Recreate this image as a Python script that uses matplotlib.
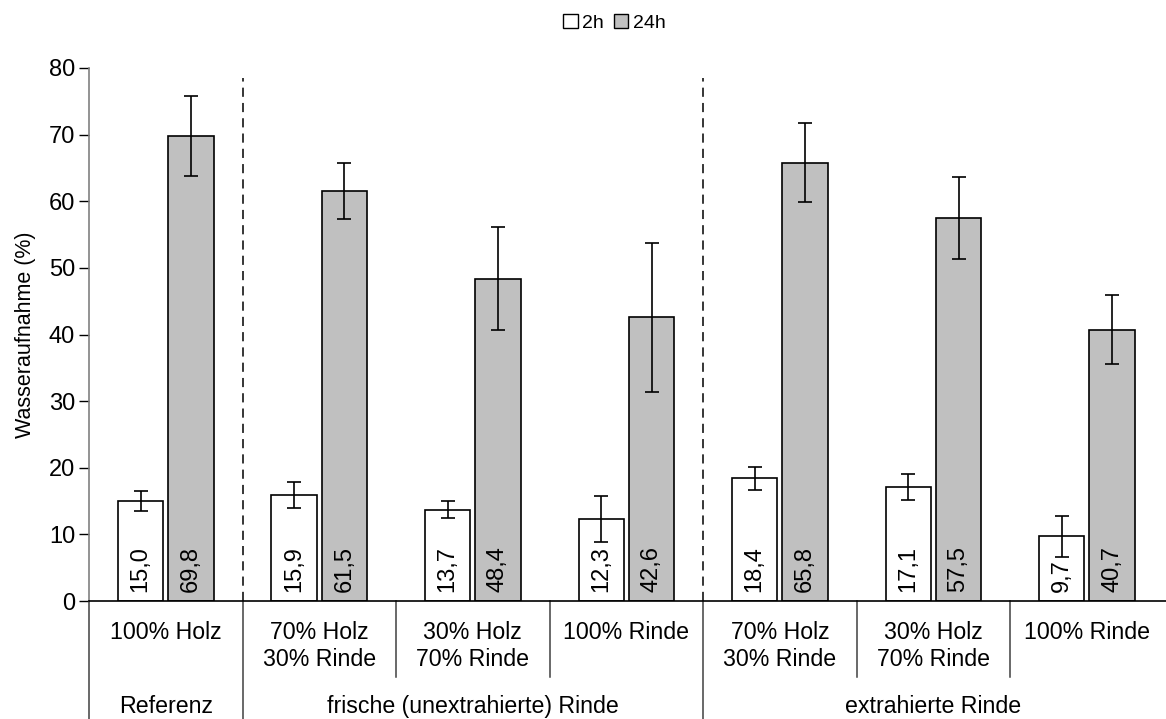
import numpy as np
import matplotlib.pyplot as plt
from matplotlib.patches import Patch

plt.rcParams['font.family'] = ['Liberation Sans', 'DejaVu Sans']

# Data
sub_labels = ['100% Holz', '70% Holz\n30% Rinde', '30% Holz\n70% Rinde', '100% Rinde',
              '70% Holz\n30% Rinde', '30% Holz\n70% Rinde', '100% Rinde']
main_labels = ['Referenz', 'frische (unextrahierte) Rinde', 'extrahierte Rinde']
main_spans = [(0, 1), (1, 4), (4, 7)]
vals_2h = [15.0, 15.9, 13.7, 12.3, 18.4, 17.1, 9.7]
vals_24h = [69.8, 61.5, 48.4, 42.6, 65.8, 57.5, 40.7]
err_2h = [1.5, 1.9, 1.3, 3.4, 1.7, 2.0, 3.1]
err_24h = [6.0, 4.2, 7.7, 11.2, 5.9, 6.1, 5.2]

fig = plt.figure(figsize=(11.66, 7.19), dpi=100)
ax = fig.add_axes([89 / 1166, 1 - 601 / 719, 1077 / 1166, 533 / 719])

x = np.arange(len(vals_2h)) + 0.5
w = 0.295
off = 0.164

ax.bar(x - off, vals_2h, w, color='white', edgecolor='black', linewidth=1.2, zorder=2)
ax.bar(x + off, vals_24h, w, color='#c0c0c0', edgecolor='black', linewidth=1.2, zorder=2)
ekw = dict(fmt='none', ecolor='black', elinewidth=1.2, capsize=5, capthick=1.2, zorder=3)
ax.errorbar(x - off, vals_2h, yerr=err_2h, **ekw)
ax.errorbar(x + off, vals_24h, yerr=err_24h, **ekw)

for xi, v in zip(x - off, vals_2h):
    ax.text(xi, 1.3, f'{v:.1f}'.replace('.', ','), rotation=90, ha='center', va='bottom',
            fontsize=17, zorder=4)
for xi, v in zip(x + off, vals_24h):
    ax.text(xi, 1.3, f'{v:.1f}'.replace('.', ','), rotation=90, ha='center', va='bottom',
            fontsize=17, zorder=4)

# dashed separators in the plot area
for xs in [1, 4]:
    ax.plot([xs, xs], [0, 78.5], color='black', lw=1.1, linestyle=(0, (6, 4)), zorder=1)

ax.set_xlim(0, 7.015)
ax.set_ylim(0, 80)
ax.set_yticks(range(0, 81, 10))
ax.tick_params(axis='y', labelsize=17, length=7, width=1, direction='out', pad=3)
ax.set_xticks([])
for s in ['top', 'right']:
    ax.spines[s].set_visible(False)
ax.spines['left'].set_color('#808080')
ax.spines['left'].set_linewidth(1.2)
ax.spines['bottom'].set_color('black')
ax.spines['bottom'].set_linewidth(1.2)
ax.set_ylabel('Wasseraufnahme (%)', fontsize=15.5, labelpad=9)

# multi-level category axis
trans = ax.get_xaxis_transform()
for xi, lab in zip(x, sub_labels):
    ax.text(xi, -0.0375, lab, transform=trans, ha='center', va='top', fontsize=16.7,
            linespacing=1.2, clip_on=False)
for xs in [2, 3, 5, 6]:
    ax.plot([xs, xs], [0, -0.1426], transform=trans, color='#404040', lw=1.1, clip_on=False)
for xs in [0, 1, 4]:
    ax.plot([xs, xs], [0, -0.23], transform=trans, color='#404040', lw=1.1, clip_on=False)
for (a, b), lab in zip(main_spans, main_labels):
    ax.text((a + b) / 2, -0.21, lab, transform=trans, ha='center', va='baseline',
            fontsize=16.7, clip_on=False)

handles = [Patch(facecolor='white', edgecolor='black', label='2h'),
           Patch(facecolor='#c0c0c0', edgecolor='black', label='24h')]
fig.legend(handles=handles, loc='upper center', bbox_to_anchor=(0.527, 1.005), ncol=2,
           frameon=False, fontsize=14, handlelength=0.75, handleheight=0.75,
           handletextpad=0.25, columnspacing=0.5)

fig.savefig('out.png', dpi=100)
